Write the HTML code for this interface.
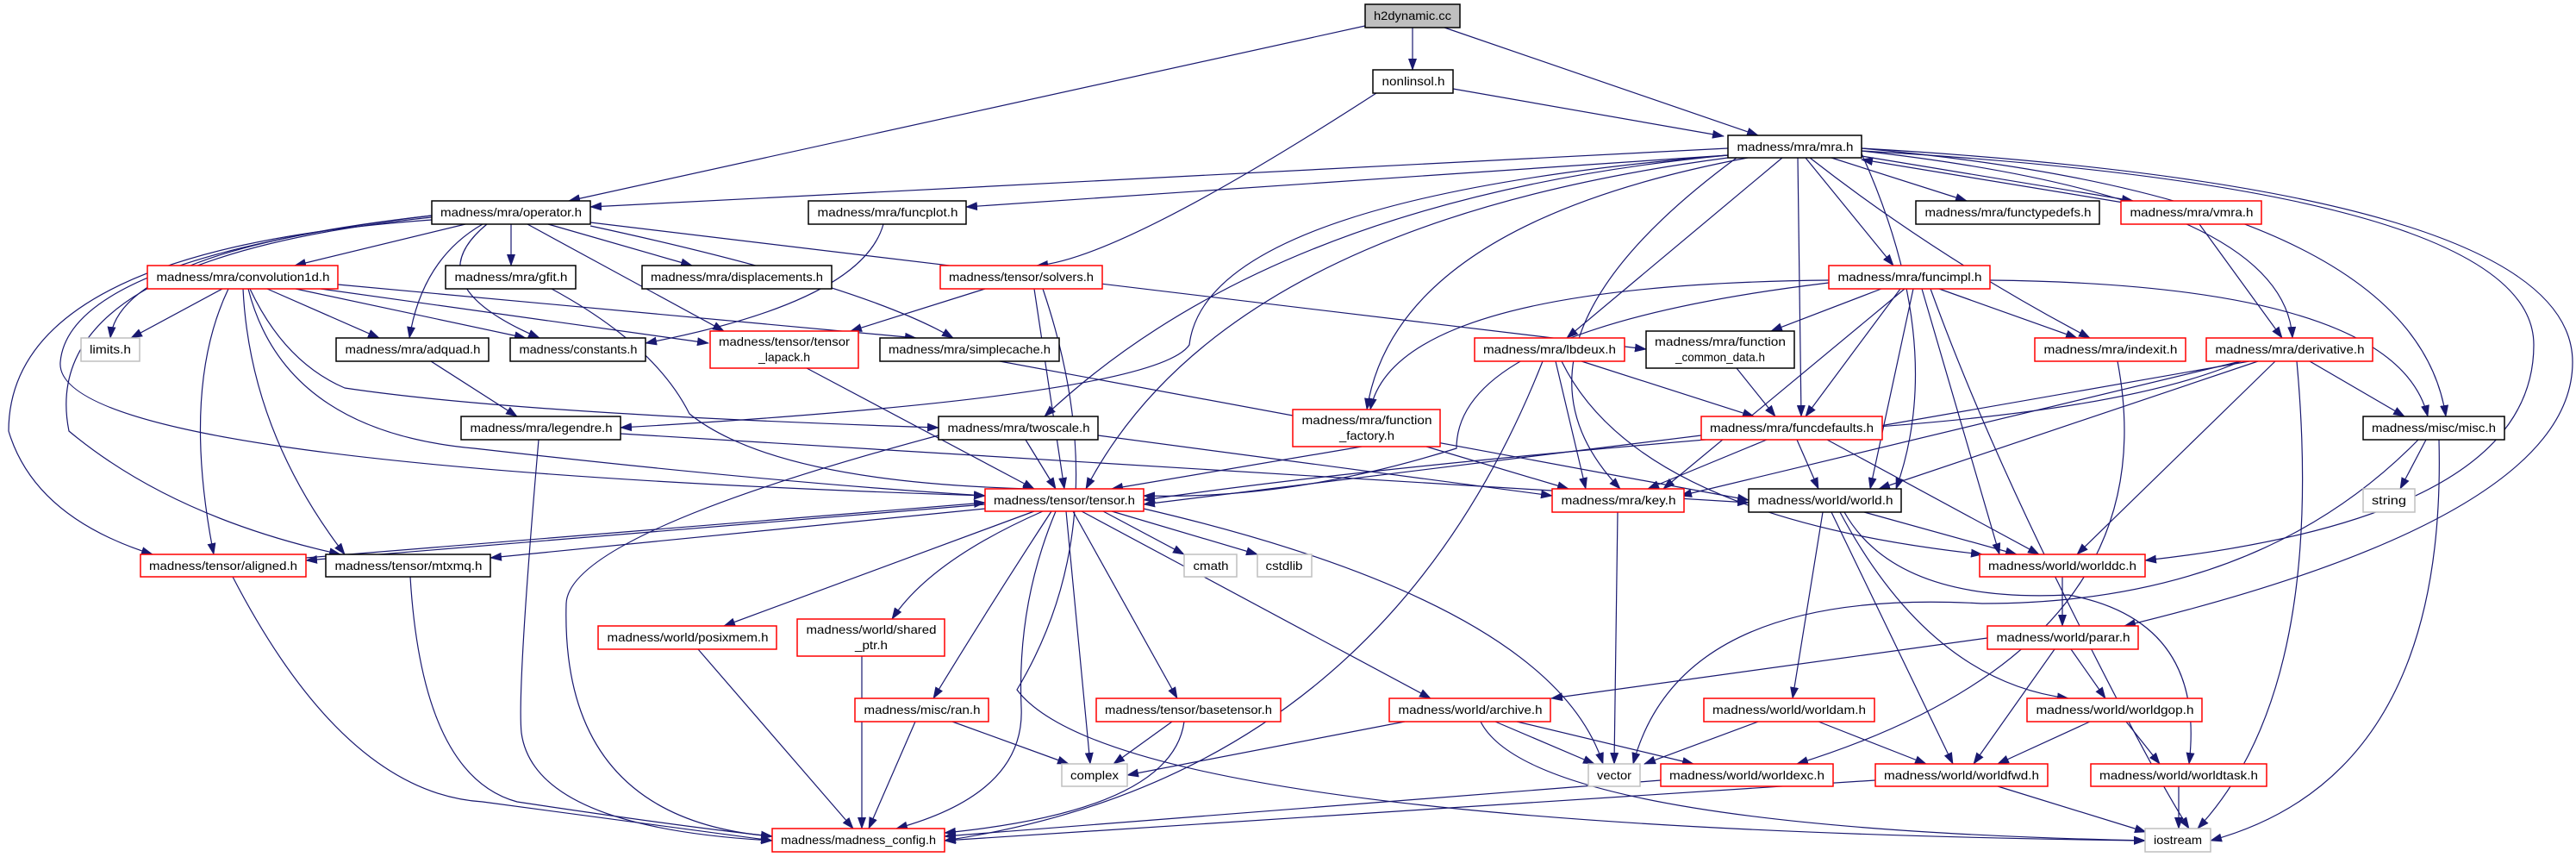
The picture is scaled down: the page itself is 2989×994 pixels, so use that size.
<!DOCTYPE html>
<html><head><meta charset="utf-8"><style>
html,body{margin:0;padding:0;background:#fff;width:2989px;height:994px;overflow:hidden}
svg{display:block}
text{font-family:"Liberation Sans",sans-serif;font-size:14px;fill:#000}
.b{fill:#fff;stroke:#000;stroke-width:1.5}
.r{fill:#fff;stroke:#f00;stroke-width:1.5}
.g{fill:#fff;stroke:#bfbfbf;stroke-width:1.5}
.e path,.e line{stroke:#191970;stroke-width:1.2;fill:none;marker-end:url(#a)}
</style></head><body>
<svg width="2989" height="994" viewBox="0 0 2989 994" xmlns="http://www.w3.org/2000/svg">
<defs><marker id="a" markerUnits="userSpaceOnUse" markerWidth="14" markerHeight="10" refX="13" refY="5" orient="auto"><path d="M0,0 L14,5 L0,10 z" fill="#191970"/></marker></defs>
<g class="e">
<line x1="1584" y1="30" x2="660" y2="233"/>
<line x1="1639" y1="32" x2="1639" y2="81"/>
<line x1="1676" y1="32" x2="2040" y2="157"/>
<path d="M1597,108 Q1300,300 1203,308"/>
<line x1="1686" y1="103" x2="2000" y2="158"/>
<line x1="2005" y1="172" x2="685" y2="240"/>
<line x1="2005" y1="180" x2="1121" y2="240"/>
<line x1="2125" y1="183" x2="2282" y2="233"/>
<line x1="2160" y1="181" x2="2475" y2="233"/>
<line x1="2470" y1="236" x2="2160" y2="185"/>
<line x1="2095" y1="183" x2="2197" y2="308"/>
<line x1="2068" y1="183" x2="1818" y2="392"/>
<path d="M2100,183 Q2250,300 2425,392"/>
<path d="M2160,175 Q2650,230 2660,392"/>
<path d="M2028,183 Q1620,260 1586,475"/>
<line x1="2086" y1="183" x2="2090" y2="483"/>
<path d="M2160,172 Q2800,230 2838,483"/>
<path d="M2015,183 Q1720,400 1880,567"/>
<path d="M2160,178 Q2260,400 2200,567"/>
<path d="M2160,175 Q2940,220 2940,400 Q2940,600 2489,650"/>
<path d="M2160,172 Q2985,220 2985,420 Q2985,600 2465,726"/>
<path d="M2005,183 Q1420,260 1260,567"/>
<path d="M2005,180 Q1400,230 1380,400 Q1340,460 720,496"/>
<path d="M2005,180 Q1480,230 1212,483"/>
<line x1="2552" y1="260" x2="2648" y2="392"/>
<line x1="540" y1="260" x2="342" y2="308"/>
<line x1="593" y1="260" x2="593" y2="308"/>
<line x1="636" y1="260" x2="803" y2="308"/>
<path d="M501,250 Q140,290 128,392"/>
<path d="M560,260 Q490,300 475,392"/>
<path d="M565,260 Q480,330 626,392"/>
<line x1="612" y1="260" x2="840" y2="384"/>
<path d="M685,262 Q1000,330 1106,392"/>
<path d="M501,255 Q10,290 10,500 Q40,600 177,643"/>
<path d="M501,252 Q40,300 80,500 Q200,600 395,643"/>
<path d="M501,250 Q80,300 70,420 Q60,540 1143,575"/>
<line x1="685" y1="258" x2="1910" y2="405"/>
<path d="M1025,260 Q1000,350 749,398"/>
<line x1="258" y1="335" x2="152" y2="392"/>
<line x1="310" y1="335" x2="440" y2="392"/>
<line x1="343" y1="335" x2="610" y2="392"/>
<line x1="372" y1="335" x2="822" y2="398"/>
<line x1="392" y1="330" x2="1063" y2="392"/>
<path d="M265,335 Q210,450 248,643"/>
<path d="M282,335 Q290,500 400,643"/>
<path d="M288,335 Q330,500 550,520 Q900,560 1143,575"/>
<path d="M290,335 Q330,420 400,450 Q600,480 1089,496"/>
<path d="M640,335 Q760,400 800,480 Q900,560 1200,567"/>
<line x1="1143" y1="335" x2="987" y2="384"/>
<line x1="1200" y1="335" x2="1235" y2="567"/>
<path d="M1210,335 Q1300,600 1180,800 Q1300,960 2489,975"/>
<line x1="500" y1="419" x2="600" y2="483"/>
<line x1="936" y1="427" x2="1200" y2="567"/>
<line x1="1160" y1="419" x2="2029" y2="580"/>
<path d="M625,510 Q600,800 605,850 Q620,960 896,975"/>
<line x1="720" y1="503" x2="2029" y2="583"/>
<line x1="1190" y1="510" x2="1225" y2="567"/>
<path d="M1089,505 Q660,620 657,700 Q650,950 896,970"/>
<line x1="1274" y1="505" x2="1801" y2="575"/>
<path d="M2122,325 Q1620,330 1590,475"/>
<line x1="2183" y1="335" x2="2055" y2="384"/>
<line x1="2205" y1="335" x2="2095" y2="483"/>
<line x1="2250" y1="335" x2="2410" y2="392"/>
<path d="M2309,325 Q2780,330 2817,483"/>
<path d="M2122,328 Q1690,380 1690,520 Q1500,580 1327,575"/>
<line x1="2210" y1="335" x2="1930" y2="567"/>
<line x1="2220" y1="335" x2="2170" y2="567"/>
<line x1="2230" y1="335" x2="2320" y2="643"/>
<path d="M2240,335 Q2300,500 2400,700 Q2500,900 2540,961"/>
<line x1="1835" y1="419" x2="2035" y2="483"/>
<line x1="1805" y1="419" x2="1840" y2="567"/>
<path d="M1812,419 Q1900,600 2300,643"/>
<path d="M1790,419 Q1600,900 1096,975"/>
<line x1="2015" y1="427" x2="2060" y2="483"/>
<path d="M2457,419 Q2520,750 2085,886"/>
<line x1="2610" y1="419" x2="2170" y2="496"/>
<line x1="2600" y1="419" x2="1950" y2="575"/>
<line x1="2620" y1="419" x2="2180" y2="567"/>
<line x1="2640" y1="419" x2="2410" y2="643"/>
<line x1="2680" y1="419" x2="2790" y2="483"/>
<path d="M2665,419 Q2700,800 2550,961"/>
<path d="M2600,419 Q2460,480 2100,500 Q1600,540 1327,580"/>
<line x1="1580" y1="518" x2="1290" y2="567"/>
<line x1="1655" y1="518" x2="1820" y2="567"/>
<line x1="1974" y1="505" x2="1327" y2="585"/>
<line x1="2050" y1="510" x2="1912" y2="567"/>
<line x1="2085" y1="510" x2="2110" y2="567"/>
<line x1="2120" y1="510" x2="2366" y2="643"/>
<line x1="2815" y1="510" x2="2785" y2="567"/>
<path d="M2830,510 Q2840,900 2565,975"/>
<path d="M2806,510 Q2620,700 2300,700 Q1950,680 1895,886"/>
<line x1="1143" y1="585" x2="355" y2="650"/>
<line x1="355" y1="647" x2="1143" y2="583"/>
<line x1="1143" y1="590" x2="569" y2="647"/>
<line x1="1280" y1="593" x2="1374" y2="643"/>
<line x1="1290" y1="593" x2="1459" y2="643"/>
<line x1="1200" y1="593" x2="840" y2="726"/>
<path d="M1210,593 Q1080,650 1035,718"/>
<path d="M1220,593 Q1150,700 1083,810"/>
<line x1="1245" y1="593" x2="1366" y2="810"/>
<line x1="1237" y1="593" x2="1265" y2="886"/>
<path d="M1225,593 Q1180,700 1185,820 Q1190,920 1040,961"/>
<path d="M1327,590 Q1800,700 1860,886"/>
<line x1="1255" y1="593" x2="1660" y2="810"/>
<path d="M270,669 Q400,920 560,930 Q780,960 896,975"/>
<path d="M476,669 Q490,900 600,930 Q800,960 896,970"/>
<line x1="810" y1="753" x2="990" y2="961"/>
<line x1="1000" y1="761" x2="1000" y2="961"/>
<line x1="1062" y1="837" x2="1008" y2="961"/>
<line x1="1105" y1="837" x2="1240" y2="886"/>
<line x1="1360" y1="837" x2="1292" y2="886"/>
<path d="M1374,837 Q1360,940 1096,966"/>
<line x1="1877" y1="594" x2="1873" y2="886"/>
<line x1="2163" y1="594" x2="2340" y2="643"/>
<line x1="2115" y1="594" x2="2080" y2="810"/>
<line x1="2125" y1="594" x2="2266" y2="886"/>
<path d="M2135,594 Q2240,790 2400,810"/>
<path d="M2140,594 Q2200,700 2400,690 Q2560,720 2540,886"/>
<line x1="2393" y1="669" x2="2393" y2="726"/>
<line x1="2306" y1="740" x2="1800" y2="810"/>
<line x1="2384" y1="753" x2="2290" y2="886"/>
<line x1="2403" y1="753" x2="2443" y2="810"/>
<line x1="1630" y1="837" x2="1308" y2="899"/>
<line x1="1735" y1="837" x2="1850" y2="886"/>
<line x1="1760" y1="837" x2="1965" y2="886"/>
<path d="M1718,837 Q1780,960 2489,975"/>
<line x1="2040" y1="837" x2="1908" y2="886"/>
<line x1="2110" y1="837" x2="2235" y2="886"/>
<line x1="2425" y1="837" x2="2318" y2="886"/>
<line x1="2467" y1="837" x2="2506" y2="886"/>
<line x1="1927" y1="905" x2="1096" y2="970"/>
<line x1="2176" y1="905" x2="1096" y2="975"/>
<line x1="2318" y1="912" x2="2490" y2="965"/>
<line x1="2528" y1="912" x2="2528" y2="961"/>
</g>
<g text-anchor="middle">
<rect x="1584" y="5" width="110" height="27" fill="#bfbfbf" stroke="#000" stroke-width="1.5"/><text x="1639" y="23" textLength="90" lengthAdjust="spacingAndGlyphs">h2dynamic.cc</text>
<rect class="b" x="1593" y="81" width="93" height="27"/><text x="1640" y="99" textLength="73" lengthAdjust="spacingAndGlyphs">nonlinsol.h</text>
<rect class="b" x="2005" y="157" width="155" height="26"/><text x="2083" y="175" textLength="135" lengthAdjust="spacingAndGlyphs">madness/mra/mra.h</text>
<rect class="b" x="501" y="233" width="184" height="27"/><text x="593" y="251" textLength="164" lengthAdjust="spacingAndGlyphs">madness/mra/operator.h</text>
<rect class="b" x="938" y="233" width="183" height="27"/><text x="1030" y="251" textLength="163" lengthAdjust="spacingAndGlyphs">madness/mra/funcplot.h</text>
<rect class="b" x="2223" y="233" width="213" height="27"/><text x="2330" y="251" textLength="193" lengthAdjust="spacingAndGlyphs">madness/mra/functypedefs.h</text>
<rect class="r" x="2461" y="233" width="163" height="27"/><text x="2543" y="251" textLength="143" lengthAdjust="spacingAndGlyphs">madness/mra/vmra.h</text>
<rect class="r" x="171" y="308" width="221" height="27"/><text x="282" y="326" textLength="201" lengthAdjust="spacingAndGlyphs">madness/mra/convolution1d.h</text>
<rect class="b" x="517" y="308" width="151" height="27"/><text x="593" y="326" textLength="131" lengthAdjust="spacingAndGlyphs">madness/mra/gfit.h</text>
<rect class="b" x="745" y="308" width="220" height="27"/><text x="855" y="326" textLength="200" lengthAdjust="spacingAndGlyphs">madness/mra/displacements.h</text>
<rect class="r" x="1091" y="308" width="188" height="27"/><text x="1185" y="326" textLength="168" lengthAdjust="spacingAndGlyphs">madness/tensor/solvers.h</text>
<rect class="r" x="2122" y="308" width="187" height="27"/><text x="2216" y="326" textLength="167" lengthAdjust="spacingAndGlyphs">madness/mra/funcimpl.h</text>
<rect class="g" x="94" y="392" width="68" height="27"/><text x="128" y="410" textLength="48" lengthAdjust="spacingAndGlyphs">limits.h</text>
<rect class="b" x="390" y="392" width="177" height="27"/><text x="479" y="410" textLength="157" lengthAdjust="spacingAndGlyphs">madness/mra/adquad.h</text>
<rect class="b" x="592" y="392" width="157" height="27"/><text x="671" y="410" textLength="137" lengthAdjust="spacingAndGlyphs">madness/constants.h</text>
<rect class="r" x="824" y="384" width="172" height="43"/><text x="910" y="401" textLength="152" lengthAdjust="spacingAndGlyphs">madness/tensor/tensor</text><text x="910" y="419" textLength="60" lengthAdjust="spacingAndGlyphs">_lapack.h</text>
<rect class="b" x="1021" y="392" width="208" height="27"/><text x="1125" y="410" textLength="188" lengthAdjust="spacingAndGlyphs">madness/mra/simplecache.h</text>
<rect class="r" x="1711" y="392" width="174" height="27"/><text x="1798" y="410" textLength="154" lengthAdjust="spacingAndGlyphs">madness/mra/lbdeux.h</text>
<rect class="b" x="1910" y="384" width="172" height="43"/><text x="1996" y="401" textLength="152" lengthAdjust="spacingAndGlyphs">madness/mra/function</text><text x="1996" y="419" textLength="104" lengthAdjust="spacingAndGlyphs">_common_data.h</text>
<rect class="r" x="2361" y="392" width="175" height="27"/><text x="2449" y="410" textLength="155" lengthAdjust="spacingAndGlyphs">madness/mra/indexit.h</text>
<rect class="r" x="2560" y="392" width="193" height="27"/><text x="2657" y="410" textLength="173" lengthAdjust="spacingAndGlyphs">madness/mra/derivative.h</text>
<rect class="b" x="535" y="483" width="185" height="27"/><text x="628" y="501" textLength="165" lengthAdjust="spacingAndGlyphs">madness/mra/legendre.h</text>
<rect class="b" x="1089" y="483" width="185" height="27"/><text x="1182" y="501" textLength="165" lengthAdjust="spacingAndGlyphs">madness/mra/twoscale.h</text>
<rect class="r" x="1500" y="475" width="171" height="43"/><text x="1586" y="492" textLength="151" lengthAdjust="spacingAndGlyphs">madness/mra/function</text><text x="1586" y="510" textLength="64" lengthAdjust="spacingAndGlyphs">_factory.h</text>
<rect class="r" x="1974" y="483" width="210" height="27"/><text x="2079" y="501" textLength="190" lengthAdjust="spacingAndGlyphs">madness/mra/funcdefaults.h</text>
<rect class="b" x="2742" y="483" width="164" height="27"/><text x="2824" y="501" textLength="144" lengthAdjust="spacingAndGlyphs">madness/misc/misc.h</text>
<rect class="r" x="1143" y="567" width="184" height="26"/><text x="1235" y="585" textLength="164" lengthAdjust="spacingAndGlyphs">madness/tensor/tensor.h</text>
<rect class="r" x="1801" y="567" width="153" height="27"/><text x="1878" y="585" textLength="133" lengthAdjust="spacingAndGlyphs">madness/mra/key.h</text>
<rect class="b" x="2029" y="567" width="177" height="27"/><text x="2118" y="585" textLength="157" lengthAdjust="spacingAndGlyphs">madness/world/world.h</text>
<rect class="g" x="2742" y="567" width="60" height="27"/><text x="2772" y="585" textLength="40" lengthAdjust="spacingAndGlyphs">string</text>
<rect class="r" x="163" y="643" width="192" height="26"/><text x="259" y="661" textLength="172" lengthAdjust="spacingAndGlyphs">madness/tensor/aligned.h</text>
<rect class="b" x="378" y="643" width="191" height="26"/><text x="474" y="661" textLength="171" lengthAdjust="spacingAndGlyphs">madness/tensor/mtxmq.h</text>
<rect class="g" x="1374" y="643" width="61" height="26"/><text x="1405" y="661" textLength="41" lengthAdjust="spacingAndGlyphs">cmath</text>
<rect class="g" x="1459" y="643" width="63" height="26"/><text x="1490" y="661" textLength="43" lengthAdjust="spacingAndGlyphs">cstdlib</text>
<rect class="r" x="2297" y="643" width="192" height="26"/><text x="2393" y="661" textLength="172" lengthAdjust="spacingAndGlyphs">madness/world/worlddc.h</text>
<rect class="r" x="694" y="726" width="207" height="27"/><text x="798" y="744" textLength="187" lengthAdjust="spacingAndGlyphs">madness/world/posixmem.h</text>
<rect class="r" x="925" y="718" width="171" height="43"/><text x="1011" y="735" textLength="151" lengthAdjust="spacingAndGlyphs">madness/world/shared</text><text x="1011" y="753" textLength="38" lengthAdjust="spacingAndGlyphs">_ptr.h</text>
<rect class="r" x="2306" y="726" width="175" height="27"/><text x="2394" y="744" textLength="155" lengthAdjust="spacingAndGlyphs">madness/world/parar.h</text>
<rect class="r" x="992" y="810" width="155" height="27"/><text x="1070" y="828" textLength="135" lengthAdjust="spacingAndGlyphs">madness/misc/ran.h</text>
<rect class="r" x="1272" y="810" width="214" height="27"/><text x="1379" y="828" textLength="194" lengthAdjust="spacingAndGlyphs">madness/tensor/basetensor.h</text>
<rect class="r" x="1612" y="810" width="187" height="27"/><text x="1706" y="828" textLength="167" lengthAdjust="spacingAndGlyphs">madness/world/archive.h</text>
<rect class="r" x="1977" y="810" width="198" height="27"/><text x="2076" y="828" textLength="178" lengthAdjust="spacingAndGlyphs">madness/world/worldam.h</text>
<rect class="r" x="2352" y="810" width="203" height="27"/><text x="2454" y="828" textLength="183" lengthAdjust="spacingAndGlyphs">madness/world/worldgop.h</text>
<rect class="g" x="1232" y="886" width="76" height="26"/><text x="1270" y="904" textLength="56" lengthAdjust="spacingAndGlyphs">complex</text>
<rect class="g" x="1843" y="886" width="60" height="26"/><text x="1873" y="904" textLength="40" lengthAdjust="spacingAndGlyphs">vector</text>
<rect class="r" x="1927" y="886" width="200" height="26"/><text x="2027" y="904" textLength="180" lengthAdjust="spacingAndGlyphs">madness/world/worldexc.h</text>
<rect class="r" x="2176" y="886" width="200" height="26"/><text x="2276" y="904" textLength="180" lengthAdjust="spacingAndGlyphs">madness/world/worldfwd.h</text>
<rect class="r" x="2426" y="886" width="204" height="26"/><text x="2528" y="904" textLength="184" lengthAdjust="spacingAndGlyphs">madness/world/worldtask.h</text>
<rect class="r" x="896" y="961" width="200" height="27"/><text x="996" y="979" textLength="180" lengthAdjust="spacingAndGlyphs">madness/madness_config.h</text>
<rect class="g" x="2489" y="961" width="76" height="27"/><text x="2527" y="979" textLength="56" lengthAdjust="spacingAndGlyphs">iostream</text>
</g>
</svg>
</body></html>
